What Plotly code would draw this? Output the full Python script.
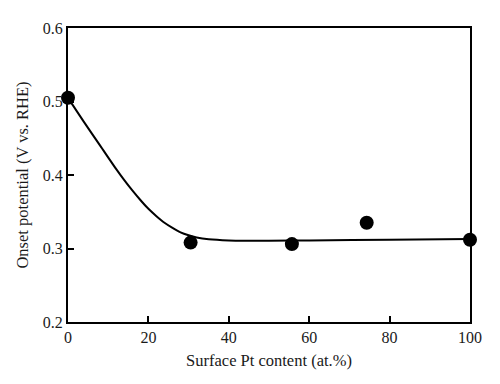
import plotly.graph_objects as go

# measured points
pt_content = [0, 30.5, 55.7, 74.3, 100]
onset = [0.505, 0.308, 0.306, 0.335, 0.312]

# fitted curve
curve_x = [0, 4, 8, 12, 14, 16, 18, 20, 22, 24, 26, 28, 30, 32, 35, 40, 50, 60, 80, 100]
curve_y = [0.505, 0.472, 0.440, 0.408, 0.393, 0.379, 0.366, 0.354, 0.344, 0.335, 0.328,
           0.322, 0.318, 0.315, 0.3125, 0.311, 0.3105, 0.311, 0.312, 0.313]

x_ticks = [0, 20, 40, 60, 80, 100]
y_ticks = [0.2, 0.3, 0.4, 0.5, 0.6]

font = "Liberation Serif"
txt = "#1a1a1a"

fig = go.Figure()
fig.add_trace(go.Scatter(x=curve_x, y=curve_y, mode="lines",
                         line=dict(color="black", width=2, shape="spline", smoothing=0.8),
                         cliponaxis=False, showlegend=False, hoverinfo="skip"))
fig.add_trace(go.Scatter(x=pt_content, y=onset, mode="markers",
                         marker=dict(color="black", size=14),
                         cliponaxis=False, showlegend=False))

axis_common = dict(showgrid=False, zeroline=False, showline=True, linecolor="black",
                   linewidth=2, mirror=True, ticks="inside", ticklen=6, tickwidth=2,
                   tickcolor="black", tickfont=dict(family=font, size=16, color=txt))

fig.update_layout(
    width=500, height=384,
    margin=dict(l=60, r=38, t=16, b=70),
    paper_bgcolor="white", plot_bgcolor="white",
    xaxis=dict(range=[0, 100], tickvals=x_ticks, ticktext=[str(v) for v in x_ticks],
               title=dict(text="Surface Pt content (at.%)", font=dict(family=font, size=16.5, color=txt),
                          standoff=9),
               **axis_common),
    yaxis=dict(range=[0.2, 0.6], tickvals=y_ticks, ticktext=[f"{v:.1f}" for v in y_ticks],
               title=dict(text="Onset potential (V vs. RHE)", font=dict(family=font, size=16.5, color=txt),
                          standoff=10),
               **axis_common),
)

fig.write_html("out.html")
